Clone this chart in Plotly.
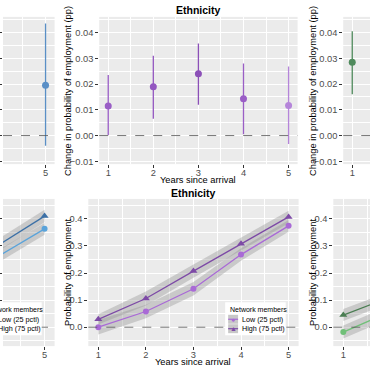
import plotly.graph_objects as go

W = H = 370

# ---------------- data ----------------
years = [1, 2, 3, 4, 5]

# Top row: change in probability of employment (pp)
eth_coef = [0.0115, 0.0190, 0.0240, 0.0143, 0.0117]
eth_lo = [0.0002, 0.0065, 0.0120, 0.0005, -0.0033]
eth_hi = [0.0235, 0.0310, 0.0358, 0.0280, 0.0268]
eth_colors = ["#9a5ec6", "#9357c0", "#8c50b8", "#9a5ec6", "#b585da"]

left_years = [5]
left_coef = [0.0195]
left_lo = [-0.0040]
left_hi = [0.0435]

right_years = [1]
right_coef = [0.0285]
right_lo = [0.0160]
right_hi = [0.0405]

# Bottom row: probability of employment
eth_low = [0.000, 0.058, 0.142, 0.268, 0.374]
eth_low_lo = [-0.027, 0.033, 0.117, 0.245, 0.352]
eth_low_hi = [0.027, 0.083, 0.167, 0.291, 0.396]
eth_high = [0.029, 0.106, 0.207, 0.308, 0.407]
eth_high_lo = [0.010, 0.080, 0.183, 0.285, 0.384]
eth_high_hi = [0.048, 0.132, 0.231, 0.331, 0.430]

bl_years = [4, 5]
bl_low = [0.259, 0.363]
bl_low_lo = [0.236, 0.341]
bl_low_hi = [0.282, 0.385]
bl_high = [0.300, 0.410]
bl_high_lo = [0.277, 0.387]
bl_high_hi = [0.323, 0.433]

br_years = [1, 2]
br_low = [-0.018, 0.058]
br_low_lo = [-0.042, 0.034]
br_low_hi = [0.006, 0.082]
br_high = [0.045, 0.112]
br_high_lo = [0.023, 0.090]
br_high_hi = [0.067, 0.134]

legend_title = "Network members"
legend_labels = ["Low (25 pctl)", "High (75 pctl)"]

FONT = "Liberation Sans, Arial, sans-serif"
BG = "#EBEBEB"
RIBBON = "rgba(150,150,150,0.40)"

fig = go.Figure()


def px_x(p):
    return p / W


def px_y(p):
    return 1 - p / H


def add_axes(n, domx, domy, xr, yr, ydtick, yformat, show_xt=True, show_yt=True):
    xs = "xaxis" if n == 1 else f"xaxis{n}"
    ys = "yaxis" if n == 1 else f"yaxis{n}"
    anchor_x = "x" if n == 1 else f"x{n}"
    anchor_y = "y" if n == 1 else f"y{n}"
    common = dict(
        showgrid=True, gridcolor="white", gridwidth=0.9,
        zeroline=False, showline=False,
        ticks="outside", ticklen=3, tickwidth=0.8, tickcolor="#333333",
        tickfont=dict(family=FONT, size=9.3, color="#4D4D4D"),
        fixedrange=True,
    )
    fig.layout[xs] = dict(
        common, domain=domx, range=xr, anchor=anchor_y,
        tickmode="linear", tick0=1, dtick=1, showticklabels=show_xt,
        ticklabelstandoff=-3,
        minor=dict(dtick=0.5, tick0=0.5, showgrid=True, gridcolor="white", gridwidth=0.45, ticks=""),
    )
    fig.layout[ys] = dict(
        common, domain=domy, range=yr, anchor=anchor_x,
        tickmode="linear", tick0=0, dtick=ydtick, tickformat=yformat,
        showticklabels=show_yt,
        minor=dict(dtick=ydtick / 2, tick0=0, showgrid=True, gridcolor="white", gridwidth=0.45, ticks=""),
    )
    # zero reference line
    fig.add_shape(type="line", xref=f"{anchor_x} domain", yref=anchor_y,
                  x0=0, x1=1, y0=0, y1=0, layer="above",
                  line=dict(color="#555555", width=0.8, dash="dash"))


top_dom = [px_y(165), px_y(17)]
bot_dom = [px_y(348), px_y(200)]
top_yr = [-0.0111, 0.0461]
bot_yr = [-0.0697, 0.4734]

add_axes(1, [0, px_x(52)], top_dom, [4.057, 5.2], top_yr, 0.01, ".2f", True, False)
add_axes(2, [px_x(97), px_x(297)], top_dom, [0.8, 5.2], top_yr, 0.01, ".2f")
add_axes(3, [px_x(343), 1], top_dom, [0.8, 0.8 + 27 / 45.5], top_yr, 0.01, ".2f")
add_axes(4, [0, px_x(52)], bot_dom, [5.21 - 52 / 48, 5.21], bot_yr, 0.1, ".1f", True, False)
add_axes(5, [px_x(86), px_x(298)], bot_dom, [0.79, 5.21], bot_yr, 0.1, ".1f")
add_axes(6, [px_x(333), 1], bot_dom, [0.79, 0.79 + 37 / 48], bot_yr, 0.1, ".1f")


def pointrange(xa, ya, xs, cs, los, his, colors):
    for x, c, lo, hi, col in zip(xs, cs, los, his, colors):
        fig.add_trace(go.Scatter(
            x=[x], y=[c], xaxis=xa, yaxis=ya, mode="markers",
            marker=dict(color=col, size=7),
            error_y=dict(type="data", symmetric=False, array=[hi - c], arrayminus=[c - lo],
                         color=col, thickness=1.3, width=0),
            showlegend=False, hoverinfo="skip"))


pointrange("x", "y", left_years, left_coef, left_lo, left_hi, ["#5a8fc6"])
pointrange("x2", "y2", years, eth_coef, eth_lo, eth_hi, eth_colors)
pointrange("x3", "y3", right_years, right_coef, right_lo, right_hi, ["#4f8a5c"])


def ribbon(xa, ya, xs, lo, hi):
    fig.add_trace(go.Scatter(x=xs, y=hi, xaxis=xa, yaxis=ya, mode="lines",
                             line=dict(width=0), showlegend=False, hoverinfo="skip"))
    fig.add_trace(go.Scatter(x=xs, y=lo, xaxis=xa, yaxis=ya, mode="lines",
                             line=dict(width=0), fill="tonexty", fillcolor=RIBBON,
                             showlegend=False, hoverinfo="skip"))


def line_pts(xa, ya, xs, ys, col, symbol, size):
    fig.add_trace(go.Scatter(x=xs, y=ys, xaxis=xa, yaxis=ya, mode="lines+markers",
                             line=dict(color=col, width=1.3),
                             marker=dict(color=col, size=size, symbol=symbol),
                             showlegend=False, hoverinfo="skip"))


panels = [
    ("x4", "y4", bl_years, bl_low, bl_low_lo, bl_low_hi, bl_high, bl_high_lo, bl_high_hi, "#5aa3da", "#3c70a6"),
    ("x5", "y5", years, eth_low, eth_low_lo, eth_low_hi, eth_high, eth_high_lo, eth_high_hi, "#a96ad6", "#7d4aa6"),
    ("x6", "y6", br_years, br_low, br_low_lo, br_low_hi, br_high, br_high_lo, br_high_hi, "#70c078", "#4a7d52"),
]
for xa, ya, xs, lo_v, lo_l, lo_h, hi_v, hi_l, hi_h, c_low, c_high in panels:
    ribbon(xa, ya, xs, lo_l, lo_h)
    ribbon(xa, ya, xs, hi_l, hi_h)
for xa, ya, xs, lo_v, lo_l, lo_h, hi_v, hi_l, hi_h, c_low, c_high in panels:
    line_pts(xa, ya, xs, lo_v, c_low, "circle", 6)
    line_pts(xa, ya, xs, hi_v, c_high, "triangle-up", 7)

ann = []


def text(s, x, y, size=9.3, color="#000000", angle=0, bold=False, xanchor="center"):
    ann.append(dict(text=f"<b>{s}</b>" if bold else s, x=px_x(x), y=px_y(y),
                    xref="paper", yref="paper", showarrow=False,
                    xanchor=xanchor, yanchor="middle", textangle=angle,
                    font=dict(family=FONT, size=size, color=color)))


# titles
text("Ethnicity", 197, 10, size=10.5, bold=True)
text("Ethnicity", 192, 194, size=10.5, bold=True)
# axis titles
text("Years since arrival", 197, 181)
text("Years since arrival", 192, 364)
text("Change in probability of employment (pp)", 65, 91, angle=-90)
text("Change in probability of employment (pp)", 312, 91, angle=-90)
text("Probability of employment", 65, 274, angle=-90)
text("Probability of employment", 312, 274, angle=-90)


# legends (manual, inside bottom panels)
def legend(x0, c_low, c_high):
    fig.add_shape(type="rect", xref="paper", yref="paper", layer="above",
                  x0=px_x(x0), x1=px_x(x0 + 61), y0=px_y(337), y1=px_y(304),
                  fillcolor="white", line=dict(width=0))
    text(legend_title, x0 + 3, 311, size=7, xanchor="left")
    for i, (lab, col, glyph) in enumerate(zip(legend_labels, [c_low, c_high], ["●", "▲"])):
        yc = 321 + i * 9.5
        fig.add_shape(type="rect", xref="paper", yref="paper", layer="above",
                      x0=px_x(x0 + 3), x1=px_x(x0 + 13), y0=px_y(yc + 4.5), y1=px_y(yc - 4.5),
                      fillcolor="#C8C8C8", line=dict(width=0))
        fig.add_shape(type="line", xref="paper", yref="paper", layer="above",
                      x0=px_x(x0 + 3), x1=px_x(x0 + 13), y0=px_y(yc), y1=px_y(yc),
                      line=dict(color=col, width=1.2))
        text(f'<span style="color:{col}">{glyph}</span>', x0 + 8, yc, size=7)
        text(lab, x0 + 15, yc, size=7.2, xanchor="left")


legend(224, "#a96ad6", "#7d4aa6")
legend(-22, "#5aa3da", "#3c70a6")

fig.update_layout(
    width=W, height=H, margin=dict(l=0, r=0, t=0, b=0),
    paper_bgcolor="white", plot_bgcolor=BG,
    annotations=ann, showlegend=False,
)

fig.write_html("out.html", config=dict(displayModeBar=False),
               post_script="document.body.style.margin='0';document.body.style.overflow='hidden';")
